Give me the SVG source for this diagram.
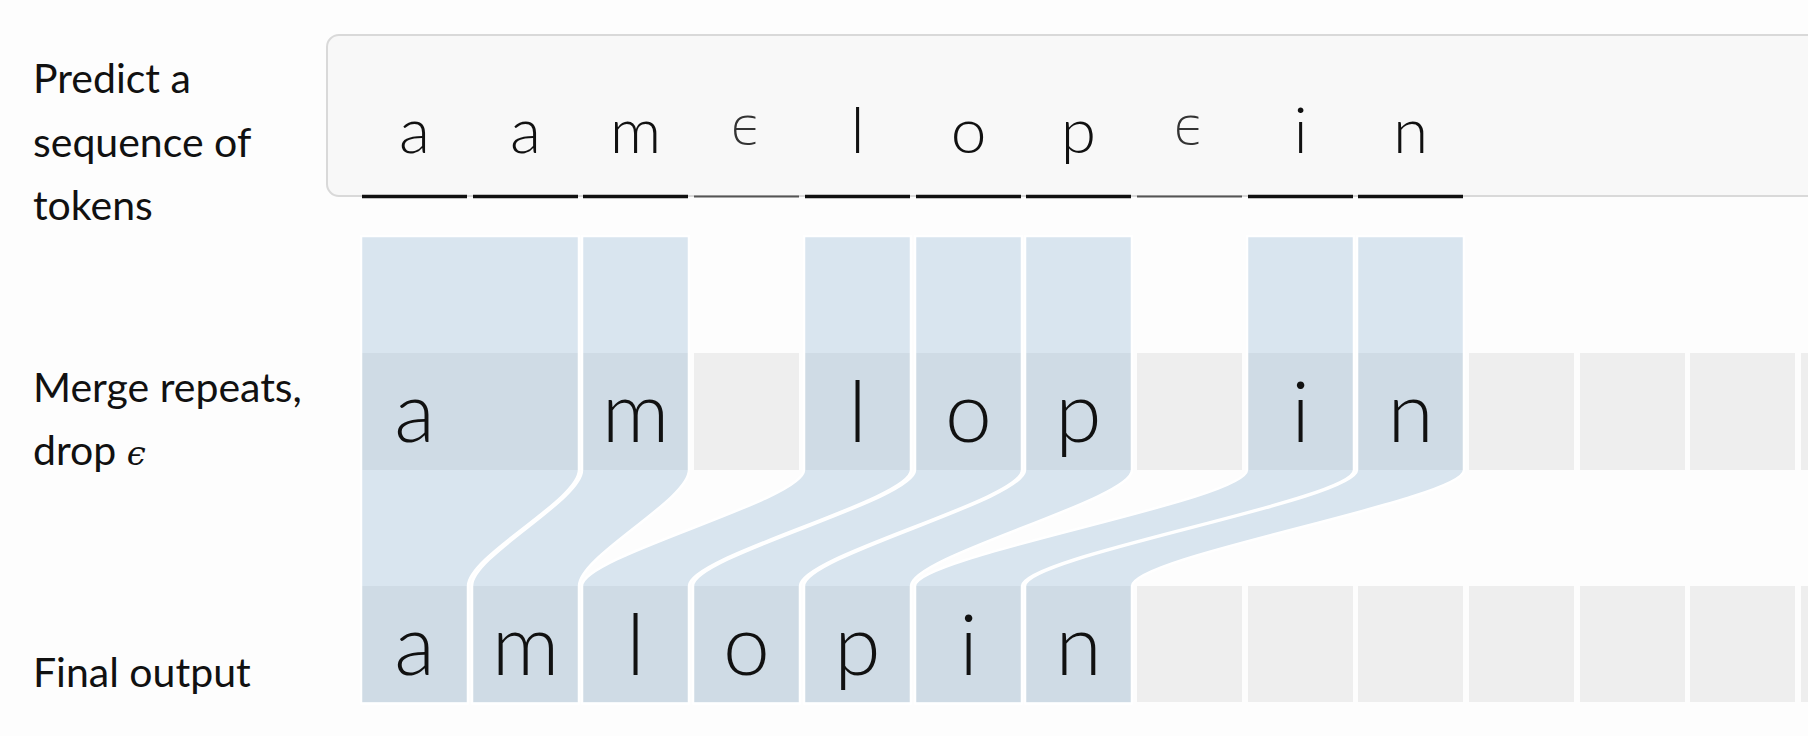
<svg xmlns="http://www.w3.org/2000/svg" width="1808" height="736" viewBox="0 0 1808 736">
  <style>
    .lbl { font-family: Lato, "Open Sans", "Liberation Sans", sans-serif; font-size: 41px; fill: #111; }
    .tok { font-family: Lato, "Open Sans", "Liberation Sans", sans-serif; font-weight: 300; fill: #111; text-anchor: middle; }
    .tokTop { font-size: 64px; }
    .tokBig { font-size: 84px; }
    .eps { font-family: "DejaVu Sans", sans-serif; font-weight: 200; font-size: 52px; fill: #333; text-anchor: middle; }
    .ul { stroke: #111; stroke-width: 3.5; }
    .ulEps { stroke: #555; stroke-width: 2; }
    .cell { fill: #eeeeee; }
    .band { fill: rgb(149,184,212); fill-opacity: 0.35; stroke: #ffffff; stroke-width: 2.5; stroke-linejoin: round; }
  </style>
  <rect x="0" y="0" width="1808" height="736" fill="#fdfdfd"/>

  <g id="labels">
    <text class="lbl" x="33" y="93">Predict a</text>
    <text class="lbl" x="33" y="157">sequence of</text>
    <text class="lbl" x="33" y="220">tokens</text>
    <text class="lbl" x="33" y="402">Merge repeats,</text>
    <text class="lbl" x="33" y="465">drop <tspan font-family="'DejaVu Serif', serif" font-style="italic" font-weight="200" font-size="34">ϵ</tspan></text>
    <text class="lbl" x="33" y="687">Final output</text>
  </g>

  <g id="predicted">
    <rect x="327" y="35" width="1520" height="161" rx="12" ry="12" fill="#f8f8f8" stroke="#d9d9d9" stroke-width="2"/>
    <text class="tok tokTop" x="414.5" y="153">a</text>
    <text class="tok tokTop" x="525.5" y="153">a</text>
    <text class="tok tokTop" x="635.5" y="153">m</text>
    <text class="eps" x="746.5" y="144">ϵ</text>
    <text class="tok tokTop" x="857.5" y="153">l</text>
    <text class="tok tokTop" x="968.5" y="153">o</text>
    <text class="tok tokTop" x="1078.5" y="153">p</text>
    <text class="eps" x="1189.5" y="144">ϵ</text>
    <text class="tok tokTop" x="1300.5" y="153">i</text>
    <text class="tok tokTop" x="1410.5" y="153">n</text>
    <line class="ul" x1="362" y1="196.5" x2="467" y2="196.5"/>
    <line class="ul" x1="473" y1="196.5" x2="578" y2="196.5"/>
    <line class="ul" x1="583" y1="196.5" x2="688" y2="196.5"/>
    <line class="ulEps" x1="694" y1="196.5" x2="799" y2="196.5"/>
    <line class="ul" x1="805" y1="196.5" x2="910" y2="196.5"/>
    <line class="ul" x1="916" y1="196.5" x2="1021" y2="196.5"/>
    <line class="ul" x1="1026" y1="196.5" x2="1131" y2="196.5"/>
    <line class="ulEps" x1="1137" y1="196.5" x2="1242" y2="196.5"/>
    <line class="ul" x1="1248" y1="196.5" x2="1353" y2="196.5"/>
    <line class="ul" x1="1358" y1="196.5" x2="1463" y2="196.5"/>
  </g>

  <g id="merged-cells">
    <rect class="cell" x="362" y="353" width="216" height="117"/>
    <rect class="cell" x="583" y="353" width="105" height="117"/>
    <rect class="cell" x="694" y="353" width="105" height="117"/>
    <rect class="cell" x="805" y="353" width="105" height="117"/>
    <rect class="cell" x="916" y="353" width="105" height="117"/>
    <rect class="cell" x="1026" y="353" width="105" height="117"/>
    <rect class="cell" x="1137" y="353" width="105" height="117"/>
    <rect class="cell" x="1248" y="353" width="105" height="117"/>
    <rect class="cell" x="1358" y="353" width="105" height="117"/>
    <rect class="cell" x="1469" y="353" width="105" height="117"/>
    <rect class="cell" x="1580" y="353" width="105" height="117"/>
    <rect class="cell" x="1690" y="353" width="105" height="117"/>
    <rect class="cell" x="1801" y="353" width="105" height="117"/>
  </g>

  <g id="final-cells">
    <rect class="cell" x="362" y="586" width="105" height="116"/>
    <rect class="cell" x="473" y="586" width="105" height="116"/>
    <rect class="cell" x="583" y="586" width="105" height="116"/>
    <rect class="cell" x="694" y="586" width="105" height="116"/>
    <rect class="cell" x="805" y="586" width="105" height="116"/>
    <rect class="cell" x="916" y="586" width="105" height="116"/>
    <rect class="cell" x="1026" y="586" width="105" height="116"/>
    <rect class="cell" x="1137" y="586" width="105" height="116"/>
    <rect class="cell" x="1248" y="586" width="105" height="116"/>
    <rect class="cell" x="1358" y="586" width="105" height="116"/>
    <rect class="cell" x="1469" y="586" width="105" height="116"/>
    <rect class="cell" x="1580" y="586" width="105" height="116"/>
    <rect class="cell" x="1690" y="586" width="105" height="116"/>
    <rect class="cell" x="1801" y="586" width="105" height="116"/>
  </g>

  <g id="connectors">
    <path class="band" d="M361,236 H579 V470 C579,500 468,556 468,586 V703.5 H361 Z"/>
    <path class="band" d="M582,236 H689 V470 C689,500 579,556 579,586 V703.5 H472 V586 C472,556 582,500 582,470 Z"/>
    <path class="band" d="M804,236 H911 V470 C911,500 689,556 689,586 V703.5 H582 V586 C582,556 804,500 804,470 Z"/>
    <path class="band" d="M915,236 H1022 V470 C1022,500 800,556 800,586 V703.5 H693 V586 C693,556 915,500 915,470 Z"/>
    <path class="band" d="M1025,236 H1132 V470 C1132,500 911,556 911,586 V703.5 H804 V586 C804,556 1025,500 1025,470 Z"/>
    <path class="band" d="M1247,236 H1354 V470 C1354,500 1022,556 1022,586 V703.5 H915 V586 C915,556 1247,500 1247,470 Z"/>
    <path class="band" d="M1357,236 H1464 V470 C1464,500 1132,556 1132,586 V703.5 H1025 V586 C1025,556 1357,500 1357,470 Z"/>
  </g>

  <g id="merged-tokens">
    <text class="tok tokBig" x="414.5" y="442">a</text>
    <text class="tok tokBig" x="635.5" y="442">m</text>
    <text class="tok tokBig" x="857.5" y="442">l</text>
    <text class="tok tokBig" x="968.5" y="442">o</text>
    <text class="tok tokBig" x="1078.5" y="442">p</text>
    <text class="tok tokBig" x="1300.5" y="442">i</text>
    <text class="tok tokBig" x="1410.5" y="442">n</text>
  </g>

  <g id="final-tokens">
    <text class="tok tokBig" x="414.5" y="675">a</text>
    <text class="tok tokBig" x="525.5" y="675">m</text>
    <text class="tok tokBig" x="635.5" y="675">l</text>
    <text class="tok tokBig" x="746.5" y="675">o</text>
    <text class="tok tokBig" x="857.5" y="675">p</text>
    <text class="tok tokBig" x="968.5" y="675">i</text>
    <text class="tok tokBig" x="1078.5" y="675">n</text>
  </g>
</svg>
